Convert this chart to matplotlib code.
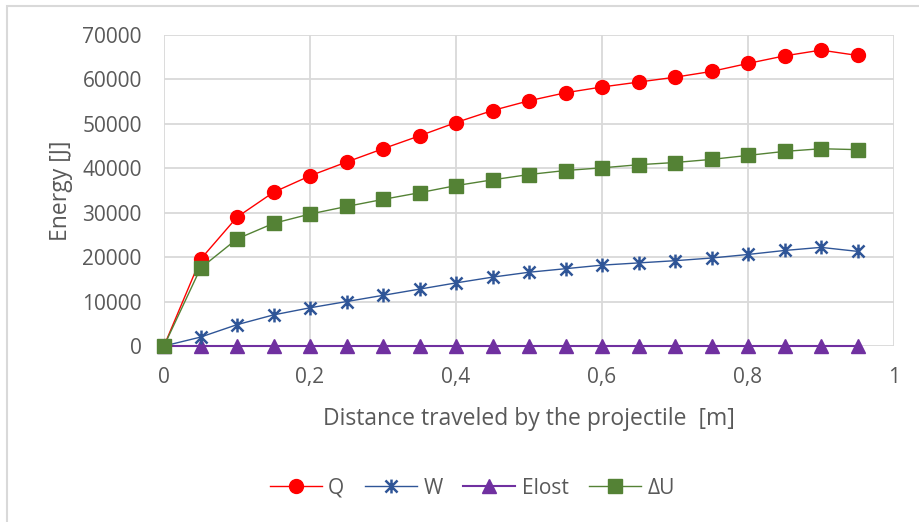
import matplotlib.pyplot as plt
from matplotlib.patches import Rectangle
from matplotlib.path import Path
from matplotlib.ticker import FuncFormatter, MultipleLocator

plt.rcParams['font.family'] = ['Open Sans', 'DejaVu Sans']

# distance traveled [m]
distance = [0, 0.05, 0.1, 0.15, 0.2, 0.25, 0.3, 0.35, 0.4, 0.45,
            0.5, 0.55, 0.6, 0.65, 0.7, 0.75, 0.8, 0.85, 0.9, 0.95]

q_vals = [0, 19500, 29000, 34600, 38300, 41400, 44400, 47300, 50300, 53000,
          55200, 57000, 58300, 59400, 60500, 61800, 63600, 65300, 66600, 65400]
w_vals = [0, 2000, 4800, 7000, 8600, 10000, 11400, 12800, 14200, 15500,
          16600, 17400, 18200, 18700, 19200, 19800, 20600, 21500, 22200, 21300]
elost_vals = [0] * 20
du_vals = [0, 17500, 24100, 27600, 29700, 31400, 33000, 34500, 36100, 37400,
           38600, 39500, 40100, 40800, 41300, 42000, 42900, 43800, 44400, 44200]

# excel style star: an X with a vertical bar through it
star = Path([(-1, -1), (1, 1), (-1, 1), (1, -1), (0, 1.15), (0, -1.15)],
            [Path.MOVETO, Path.LINETO, Path.MOVETO, Path.LINETO, Path.MOVETO, Path.LINETO])

fig = plt.figure(figsize=(9.19, 5.22), dpi=100)
ax = fig.add_axes([164 / 919, 1 - 346 / 522, (894 - 164) / 919, (346 - 35) / 522])

ax.plot(distance, q_vals, color='#ff0000', lw=1, marker='o', ms=10, label='Q', zorder=5)
ax.plot(distance, w_vals, color='#2f5597', lw=1, marker=star, ms=10, mew=1.8,
        label='W', zorder=4)
ax.plot(distance, elost_vals, color='#7030a0', lw=1.5, marker='^', ms=10, label='Elost',
        zorder=3, clip_on=False)
ax.plot(distance, du_vals, color='#548235', lw=1, marker='s', ms=9.5, label='ΔU', zorder=6,
        clip_on=False)

ax.set_xlim(0, 1)
ax.set_ylim(0, 70000)
ax.xaxis.set_major_locator(MultipleLocator(0.2))
ax.yaxis.set_major_locator(MultipleLocator(10000))
ax.xaxis.set_major_formatter(FuncFormatter(lambda v, p: f'{v:g}'.replace('.', ',')))
ax.yaxis.set_major_formatter(FuncFormatter(lambda v, p: f'{v:.0f}'))

ax.grid(True, color='#d9d9d9', lw=1.3)
ax.set_axisbelow(True)
for s in ax.spines.values():
    s.set_visible(False)
ax.tick_params(length=0, labelsize=15, labelcolor='#595959')
ax.tick_params(axis='x', pad=15)
ax.tick_params(axis='y', pad=16)

ax.set_xlabel('Distance traveled by the projectile  [m]', fontsize=16.5, color='#595959',
              labelpad=14)
ax.set_ylabel('Energy [J]', fontsize=16.5, color='#595959', labelpad=7)

fig.legend(loc='center', bbox_to_anchor=(0.514, 1 - 488 / 522), ncol=4, frameon=False,
           fontsize=15, labelcolor='#595959', handlelength=2.5, columnspacing=1.0,
           handletextpad=0.3)

fig.patches.append(Rectangle((7 / 919, -0.1), 1.2, 1 - 6 / 522 + 0.1,
                             transform=fig.transFigure, fill=False,
                             edgecolor='#d9d9d9', lw=1.5))

fig.savefig('out.png', dpi=100)
